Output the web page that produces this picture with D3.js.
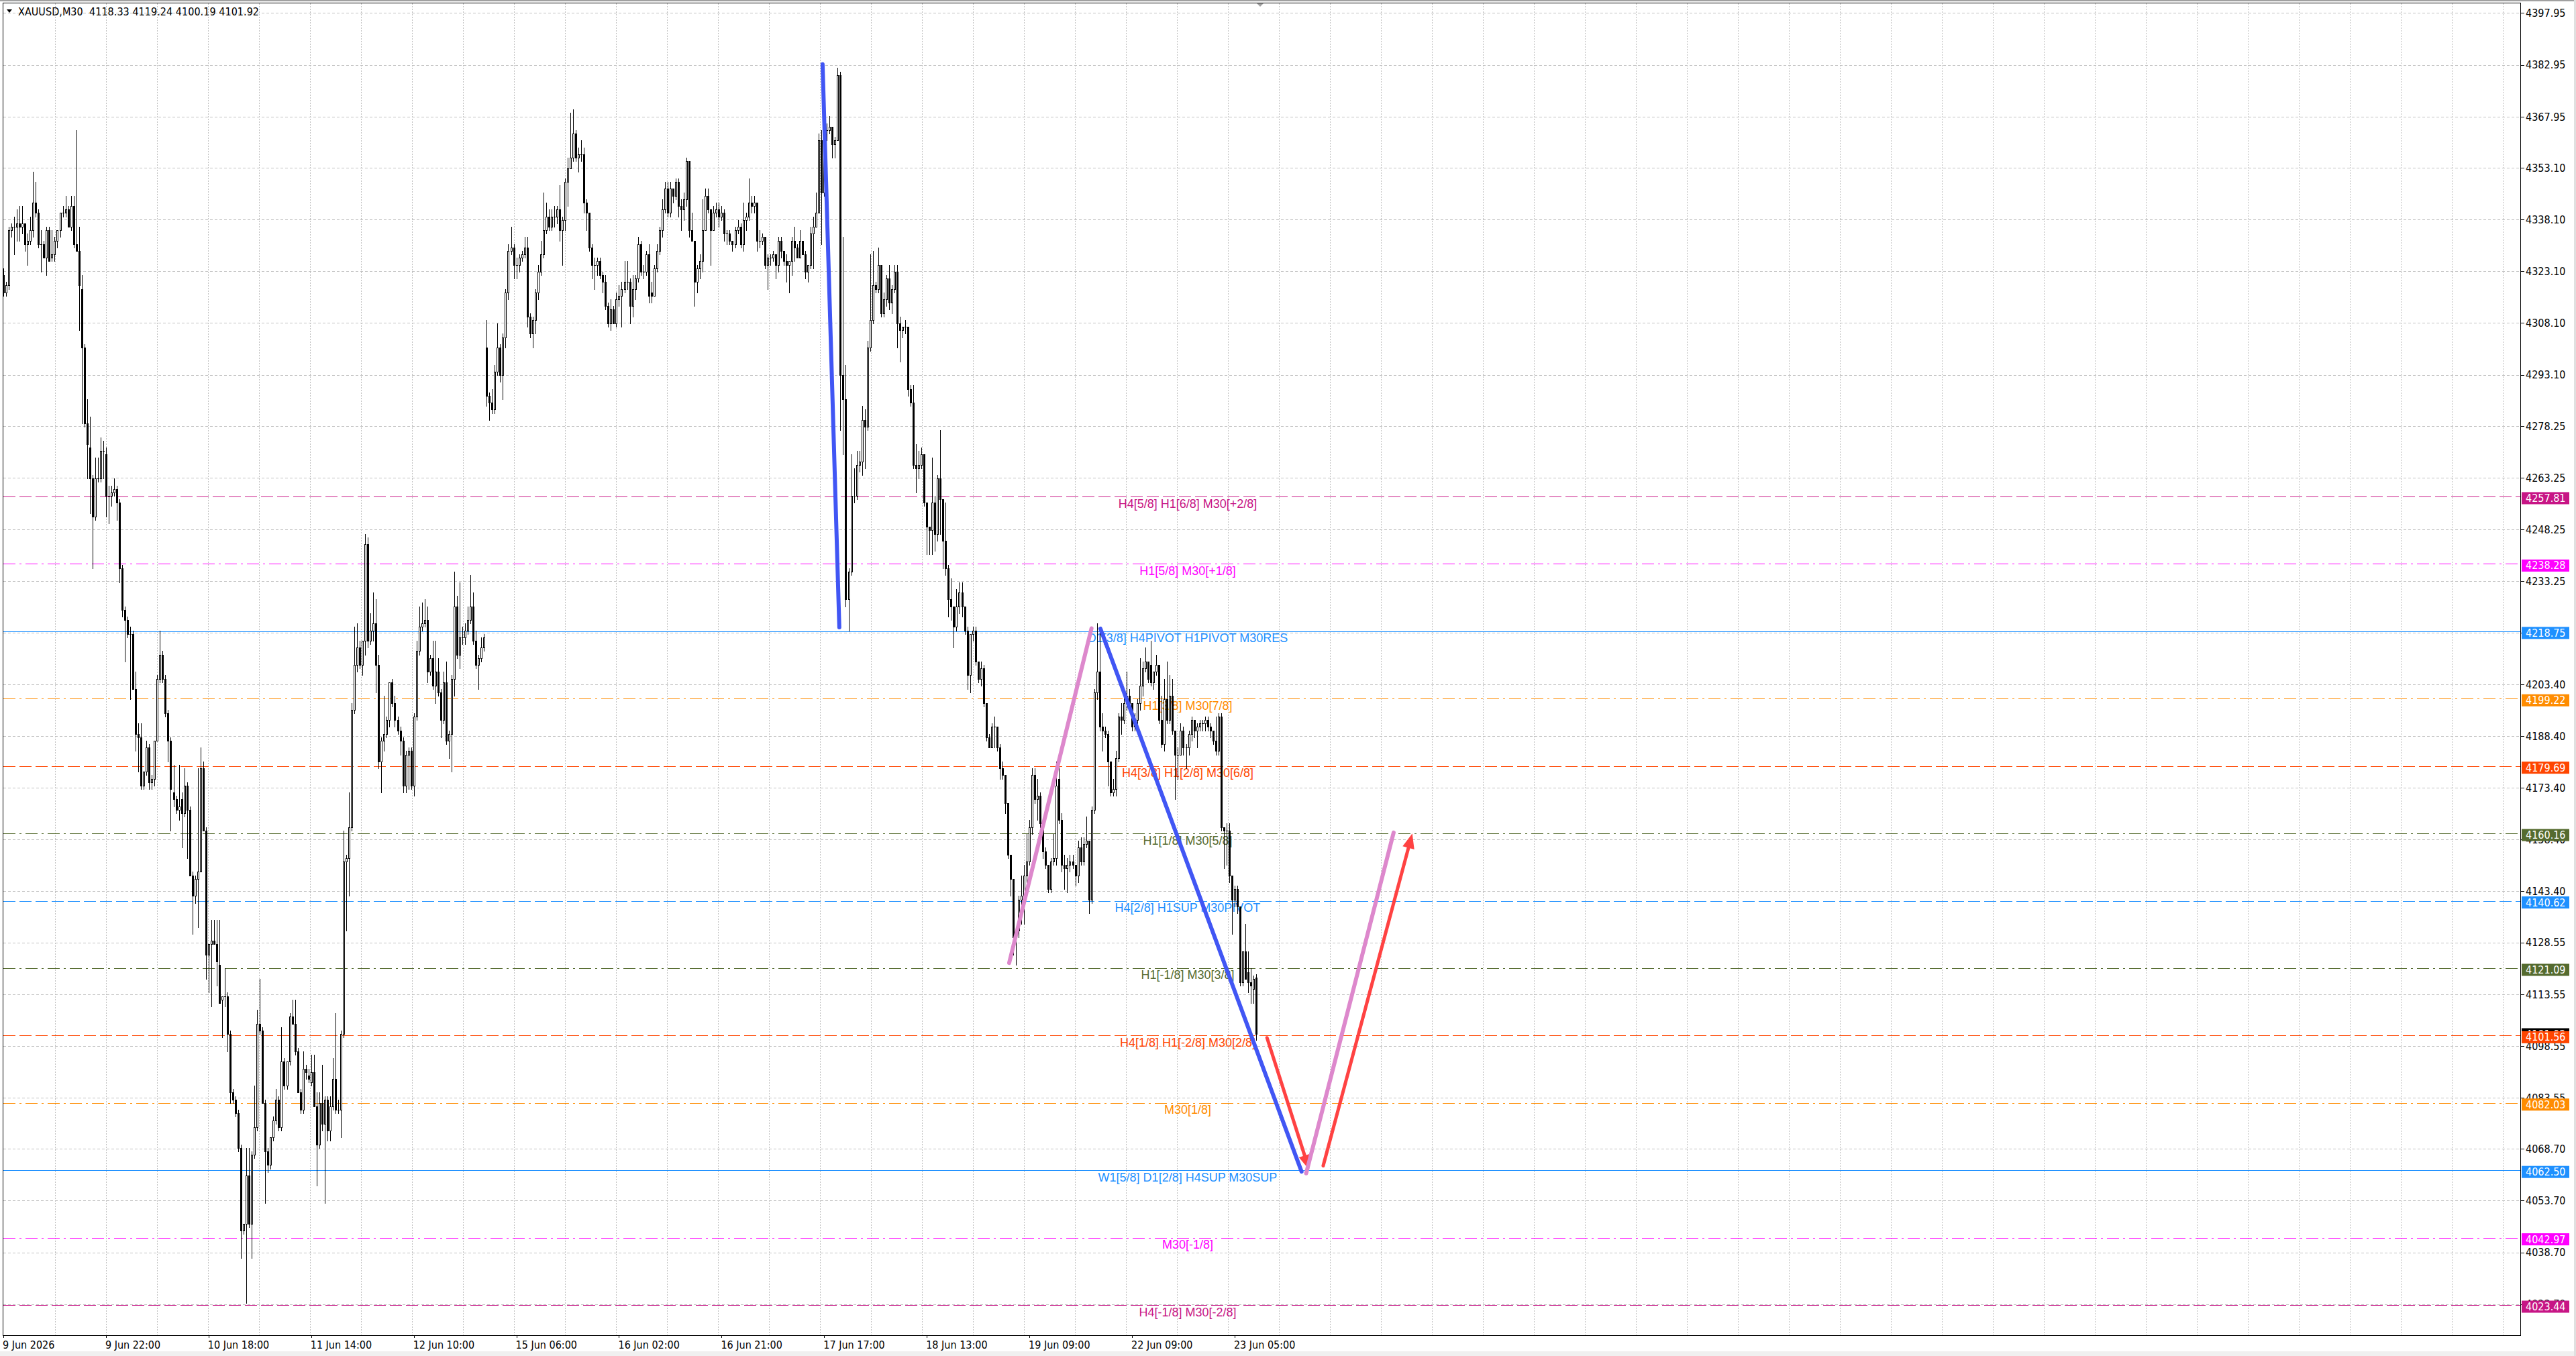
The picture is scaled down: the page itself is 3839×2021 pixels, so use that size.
<!DOCTYPE html>
<html>
<head>
<meta charset="utf-8">
<script src="https://cdn.jsdelivr.net/npm/d3@7"></script>
<style>
html, body { margin: 0; padding: 0; background: #fff; }
svg { display: block; }
</style>
</head>
<body>
<div id="chart"></div>
<script>
// XAUUSD M30 candles (bar 0 = 9 Jun 2026 early, last bar = 23 Jun)
const opens = [
4322,4317,4319,4335,4336,4336,4337,4336,4337,4331, 4332,4335,4343,4340,4331,4331,4327,4335,4327,4328,
4332,4335,4340,4340,4341,4336,4342,4331,4329,4318, 4301,4279,4272,4263,4252,4263,4263,4271,4270,4258,
4258,4259,4260,4256,4237,4225,4222,4218,4218,4202, 4189,4188,4174,4178,4185,4175,4176,4187,4205,4212,
4205,4195,4187,4172,4170,4167,4170,4166,4174,4167, 4148,4142,4147,4149,4179,4161,4125,4128,4129,4128,
4122,4112,4113,4113,4102,4085,4083,4079,4069,4045, 4047,4061,4047,4067,4075,4105,4103,4082,4068,4064,
4072,4077,4083,4075,4094,4087,4094,4107,4105,4097, 4085,4080,4092,4090,4088,4091,4081,4070,4082,4076,
4083,4074,4081,4089,4080,4080,4102,4152,4153,4162, 4196,4209,4214,4209,4216,4244,4216,4219,4221,4209,
4181,4187,4189,4193,4204,4198,4193,4190,4187,4174, 4183,4184,4174,4194,4213,4220,4221,4222,4207,4211,
4203,4207,4201,4193,4204,4187,4189,4205,4226,4212, 4217,4217,4219,4222,4226,4216,4209,4211,4214,4301,
4287,4285,4283,4294,4301,4293,4304,4317,4329,4330, 4325,4325,4327,4328,4330,4310,4305,4309,4317,4323,
4328,4335,4339,4336,4339,4339,4341,4335,4338,4349, 4353,4356,4363,4356,4357,4357,4343,4340,4330,4325,
4325,4326,4322,4320,4313,4308,4312,4308,4315,4316, 4318,4320,4320,4313,4318,4321,4331,4323,4323,4328,
4317,4316,4324,4329,4335,4341,4347,4340,4347,4345, 4349,4342,4341,4344,4355,4335,4332,4320,4324,4326,
4335,4345,4341,4335,4340,4341,4339,4340,4334,4334, 4332,4331,4335,4336,4331,4338,4339,4343,4342,4343,
4332,4332,4333,4325,4327,4327,4328,4325,4332,4329, 4326,4325,4326,4332,4330,4327,4332,4328,4323,4325,
4334,4336,4340,4361,4346,4364,4364,4365,4360,4361, 4380,4293,4286,4228,4236,4258,4258,4267,4268,4280,
4278,4301,4309,4319,4318,4325,4311,4315,4321,4314, 4318,4323,4308,4306,4307,4307,4289,4285,4267,4266,
4267,4270,4256,4249,4248,4256,4247,4263,4257,4245, 4237,4228,4226,4220,4226,4230,4226,4219,4206,4218,
4219,4210,4205,4208,4198,4188,4185,4191,4191,4185, 4179,4177,4169,4154,4147,4130,4132,4141,4142,4148,
4152,4162,4177,4170,4171,4163,4155,4151,4144,4152, 4153,4176,4164,4151,4150,4151,4152,4151,4148,4156,
4152,4157,4158,4141,4167,4201,4207,4191,4190,4189, 4181,4172,4173,4182,4194,4193,4198,4200,4198,4191,
4193,4198,4203,4208,4210,4209,4204,4207,4209,4193, 4186,4199,4193,4200,4190,4183,4183,4190,4185,4185,
4189,4193,4190,4191,4192,4192,4193,4191,4190,4187, 4184,4194,4162,4161,4161,4148,4141,4144,4139,4117,
4126,4120,4117,4115,4118.33
];
const highs = [
4324,4320,4336,4337,4339,4341,4342,4342,4337,4334, 4339,4352,4349,4341,4335,4332,4336,4336,4335,4333,
4335,4340,4342,4345,4342,4345,4345,4364,4336,4322, 4302,4286,4281,4264,4269,4269,4275,4274,4272,4261,
4261,4263,4261,4257,4238,4226,4223,4220,4219,4207, 4192,4192,4178,4187,4186,4177,4187,4206,4219,4213,
4206,4196,4188,4180,4171,4180,4172,4179,4175,4168, 4149,4148,4179,4185,4181,4162,4128,4135,4135,4135,
4135,4113,4121,4114,4103,4086,4084,4080,4070,4047, 4069,4069,4068,4087,4109,4118,4104,4083,4069,4072,
4078,4086,4084,4104,4095,4094,4108,4112,4112,4098, 4086,4097,4093,4092,4096,4096,4085,4085,4093,4084,
4084,4084,4095,4108,4083,4103,4161,4154,4172,4198, 4220,4221,4216,4216,4247,4246,4224,4230,4228,4212,
4188,4200,4194,4204,4205,4200,4194,4191,4188,4184, 4185,4185,4195,4216,4226,4227,4228,4226,4212,4216,
4216,4211,4202,4207,4210,4190,4206,4236,4229,4233, 4220,4221,4226,4235,4230,4219,4212,4217,4218,4309,
4288,4289,4296,4308,4302,4305,4318,4331,4336,4331, 4327,4328,4329,4333,4333,4311,4310,4318,4325,4332,
4346,4343,4341,4341,4342,4342,4348,4339,4350,4356, 4369,4370,4364,4359,4361,4359,4344,4340,4331,4327,
4327,4327,4323,4322,4314,4315,4313,4317,4319,4320, 4326,4326,4321,4322,4322,4333,4332,4325,4329,4331,
4320,4325,4331,4336,4344,4349,4349,4349,4347,4350, 4350,4344,4346,4356,4355,4340,4332,4325,4328,4344,
4347,4347,4341,4342,4343,4343,4342,4341,4335,4335, 4332,4336,4338,4337,4343,4340,4350,4345,4345,4343,
4335,4334,4333,4328,4328,4329,4328,4333,4333,4329, 4328,4326,4333,4336,4331,4335,4332,4329,4325,4336,
4339,4346,4363,4364,4366,4366,4368,4365,4362,4382, 4381,4333,4296,4237,4270,4266,4271,4271,4284,4283,
4303,4328,4329,4320,4330,4325,4317,4322,4325,4319, 4325,4325,4310,4307,4309,4307,4290,4290,4273,4271,
4272,4270,4256,4249,4269,4258,4264,4277,4257,4256, 4238,4234,4226,4231,4233,4233,4226,4220,4218,4220,
4220,4210,4210,4209,4198,4189,4192,4194,4191,4186, 4181,4177,4169,4154,4147,4133,4142,4148,4151,4160,
4164,4179,4179,4176,4172,4163,4156,4151,4153,4160, 4181,4181,4166,4154,4153,4154,4154,4151,4158,4159,
4159,4165,4158,4168,4202,4221,4220,4195,4191,4190, 4181,4176,4184,4195,4198,4200,4207,4202,4198,4195,
4199,4211,4210,4214,4210,4216,4207,4212,4209,4200, 4205,4210,4206,4205,4190,4185,4192,4191,4186,4190,
4194,4193,4192,4193,4193,4194,4194,4192,4190,4194, 4195,4195,4162,4163,4163,4148,4145,4145,4139,4126,
4134,4126,4121,4119,4119.24
];
const lows = [
4316,4316,4318,4333,4328,4332,4332,4334,4329,4325, 4331,4333,4339,4330,4323,4327,4322,4326,4326,4326,
4330,4333,4339,4339,4336,4335,4330,4329,4306,4279, 4278,4263,4253,4237,4251,4262,4262,4263,4252,4250,
4255,4258,4251,4233,4223,4210,4217,4199,4202,4184, 4178,4173,4173,4177,4173,4173,4174,4187,4204,4204,
4194,4181,4161,4168,4166,4164,4156,4165,4153,4148, 4131,4140,4133,4149,4161,4118,4114,4110,4128,4116,
4111,4101,4110,4097,4082,4082,4078,4068,4037,4044, 4024,4046,4037,4066,4074,4102,4082,4053,4062,4063,
4071,4076,4074,4074,4086,4086,4093,4105,4096,4085, 4079,4079,4089,4088,4087,4081,4058,4069,4074,4053,
4071,4071,4080,4079,4079,4072,4101,4132,4142,4161, 4195,4207,4208,4206,4212,4214,4215,4216,4201,4179,
4172,4184,4188,4191,4197,4191,4189,4183,4172,4172, 4173,4173,4171,4193,4212,4219,4220,4204,4206,4202,
4198,4200,4188,4192,4186,4182,4178,4200,4211,4208, 4215,4215,4218,4221,4215,4208,4202,4210,4213,4284,
4280,4282,4282,4293,4291,4286,4301,4315,4328,4321, 4321,4323,4326,4327,4307,4304,4301,4305,4315,4322,
4327,4334,4335,4335,4336,4337,4332,4325,4335,4342, 4353,4355,4355,4352,4355,4340,4335,4329,4321,4318,
4322,4321,4317,4312,4307,4306,4308,4307,4313,4307, 4317,4318,4308,4310,4315,4320,4322,4321,4322,4314,
4314,4316,4323,4328,4333,4340,4339,4339,4343,4344, 4339,4335,4338,4342,4333,4332,4313,4317,4321,4323,
4335,4340,4325,4335,4339,4336,4338,4332,4331,4331, 4329,4330,4334,4330,4329,4335,4338,4340,4340,4329,
4330,4331,4324,4318,4325,4326,4321,4323,4327,4325, 4320,4317,4322,4326,4327,4327,4328,4321,4320,4324,
4324,4336,4340,4331,4345,4361,4363,4356,4356,4361, 4277,4270,4226,4219,4235,4256,4257,4265,4264,4266,
4277,4300,4308,4317,4317,4310,4310,4313,4312,4311, 4317,4301,4297,4304,4305,4287,4284,4266,4259,4263,
4266,4255,4241,4241,4241,4242,4245,4247,4237,4235, 4223,4222,4214,4219,4224,4223,4218,4202,4201,4216,
4209,4204,4203,4197,4187,4185,4185,4185,4184,4176, 4176,4166,4153,4142,4125,4122,4130,4134,4134,4146,
4151,4160,4169,4164,4162,4153,4150,4143,4143,4151, 4151,4163,4149,4144,4143,4149,4150,4145,4146,4151,
4151,4156,4137,4140,4166,4199,4190,4184,4188,4174, 4171,4171,4171,4181,4189,4192,4196,4196,4190,4190,
4192,4196,4200,4207,4204,4203,4202,4206,4192,4185, 4184,4192,4192,4189,4170,4176,4183,4183,4179,4183,
4187,4188,4185,4190,4190,4190,4190,4188,4186,4183, 4183,4161,4150,4151,4146,4131,4139,4137,4116,4116,
4118,4114,4111,4111,4100.19
];
const closes = [
4317,4319,4335,4336,4336,4337,4336,4337,4331,4332, 4335,4343,4340,4331,4331,4327,4335,4326,4328,4332,
4335,4340,4340,4341,4336,4342,4331,4329,4319,4301, 4279,4273,4263,4252,4263,4263,4271,4271,4258,4258,
4259,4260,4256,4237,4225,4222,4218,4218,4202,4189, 4188,4174,4178,4185,4175,4176,4187,4205,4212,4205,
4195,4187,4173,4170,4167,4168,4166,4174,4167,4148, 4142,4147,4149,4179,4161,4125,4128,4129,4128,4123,
4111,4113,4113,4102,4085,4083,4079,4069,4045,4047, 4061,4047,4067,4075,4105,4103,4082,4068,4064,4072,
4077,4083,4075,4094,4087,4094,4107,4105,4097,4085, 4080,4092,4091,4089,4091,4081,4070,4082,4076,4083,
4074,4081,4089,4080,4080,4102,4152,4153,4162,4196, 4209,4214,4209,4216,4244,4216,4219,4221,4209,4181,
4187,4189,4193,4204,4198,4193,4190,4187,4174,4183, 4184,4174,4194,4213,4220,4221,4222,4207,4211,4203,
4207,4201,4193,4204,4187,4189,4205,4226,4212,4217, 4217,4219,4222,4226,4216,4209,4211,4214,4217,4287,
4285,4283,4294,4301,4293,4304,4317,4329,4330,4325, 4325,4327,4328,4330,4310,4305,4309,4317,4323,4328,
4335,4339,4336,4339,4339,4341,4335,4338,4349,4353, 4356,4363,4356,4357,4357,4343,4340,4330,4325,4325,
4326,4322,4320,4313,4308,4312,4308,4315,4316,4318, 4320,4320,4313,4318,4321,4331,4323,4323,4328,4316,
4316,4324,4329,4335,4341,4347,4340,4347,4345,4349, 4342,4341,4344,4355,4335,4332,4320,4324,4326,4335,
4345,4341,4335,4340,4341,4339,4340,4334,4334,4332, 4331,4335,4336,4331,4338,4339,4343,4342,4343,4332,
4332,4333,4325,4327,4327,4328,4325,4332,4329,4326, 4325,4326,4332,4330,4327,4332,4328,4323,4325,4334,
4336,4340,4361,4346,4364,4364,4365,4360,4361,4380, 4293,4286,4228,4236,4258,4258,4267,4268,4280,4278,
4301,4309,4319,4318,4325,4311,4315,4321,4314,4318, 4323,4308,4306,4307,4307,4289,4285,4267,4266,4267,
4270,4256,4249,4248,4256,4247,4263,4257,4245,4237, 4228,4226,4220,4226,4230,4226,4219,4206,4218,4219,
4210,4205,4208,4198,4188,4185,4191,4191,4185,4179, 4177,4169,4154,4147,4130,4132,4141,4142,4148,4152,
4162,4177,4170,4171,4163,4155,4151,4144,4152,4153, 4174,4164,4151,4150,4151,4152,4151,4148,4156,4152,
4157,4158,4141,4167,4201,4207,4191,4190,4189,4181, 4172,4173,4182,4194,4193,4198,4200,4198,4191,4193,
4198,4203,4208,4210,4205,4204,4207,4209,4193,4186, 4199,4193,4200,4190,4183,4183,4190,4185,4185,4189,
4193,4190,4191,4192,4192,4193,4191,4190,4187,4184, 4194,4162,4161,4161,4148,4141,4144,4139,4117,4126,
4118,4117,4116,4118,4101.92
];

// time axis: a label every 38 bars
const timeLabels = ["9 Jun 2026", "9 Jun 22:00", "10 Jun 18:00", "11 Jun 14:00", "12 Jun 10:00", "15 Jun 06:00",
  "16 Jun 02:00", "16 Jun 21:00", "17 Jun 17:00", "18 Jun 13:00", "19 Jun 09:00", "22 Jun 09:00", "23 Jun 05:00"];
const timeLabelBars = [0, 38, 76, 114, 152, 190, 228, 266, 304, 342, 380, 418, 456];

// price axis labels
const priceTicks = [4397.95, 4382.95, 4367.95, 4353.10, 4338.10, 4323.10, 4308.10, 4293.10, 4278.25, 4263.25,
  4248.25, 4233.25, 4218.25, 4203.40, 4188.40, 4173.40, 4158.40, 4143.40, 4128.55, 4113.55, 4098.55, 4083.55,
  4068.70, 4053.70, 4038.70, 4023.70];

// murrey math levels
const levelPrices = [4257.81, 4238.28, 4218.75, 4199.22, 4179.69, 4160.16, 4140.62, 4121.09, 4101.56, 4082.03, 4062.50, 4042.97, 4023.44];
const levelNames = ["H4[5/8] H1[6/8] M30[+2/8]", "H1[5/8] M30[+1/8]", "D1[3/8] H4PIVOT H1PIVOT M30RES",
  "H1[3/8] M30[7/8]", "H4[3/8] H1[2/8] M30[6/8]", "H1[1/8] M30[5/8]", "H4[2/8] H1SUP M30PIVOT",
  "H1[-1/8] M30[3/8]", "H4[1/8] H1[-2/8] M30[2/8]", "M30[1/8]", "W1[5/8] D1[2/8] H4SUP M30SUP",
  "M30[-1/8]", "H4[-1/8] M30[-2/8]"];
const levelColors = ["#C71585", "#FF00FF", "#1E90FF", "#FF8C00", "#FF4500", "#556B2F", "#1E90FF",
  "#556B2F", "#FF4500", "#FF8C00", "#1E90FF", "#FF00FF", "#C71585"];
const levelStyles = ["dash", "dashdot", "solid", "dashdot", "dash", "dashdot", "dash",
  "dashdot", "dash", "dashdot", "solid", "dashdot", "dash"];

// hand drawn lines: [bar, price] end points
const drawnLines = [
  {kind: "blue", from: [303.4, 4383.1], to: [309.6, 4219.9]},
  {kind: "blue", from: [406.3, 4219.5], to: [480.8, 4062.1]},
  {kind: "red",  from: [468.0, 4100.9], to: [483.6, 4062.7], arrow: true},
  {kind: "red",  from: [488.8, 4063.8], to: [521.8, 4160.1], arrow: true},
  {kind: "pink", from: [372.5, 4122.6], to: [403.0, 4219.6]},
  {kind: "pink", from: [482.5, 4061.6], to: [514.9, 4160.4]}
];

const width = 3839, height = 2021;
const plot = {left: 4.5, top: 4.5, right: 3756.5, bottom: 1990.5};
const axisFont = "'DejaVu Sans Condensed', 'DejaVu Sans', sans-serif";
const dashes = {dash: "18,6", dashdot: "18,6,3,6", solid: null};
const lineColors = {blue: "#4156F4", red: "#FF4242", pink: "#DD88CC"};
const lineWidths = {blue: 6, red: 5, pink: 6};

const xScale = d3.scaleLinear().domain([0, 464]).range([5, 5 + 464 * 4.024]);
const yScale = d3.scaleLinear().domain([4023.44, 4257.81]).range([1945, 740]);
const crisp = v => Math.round(v) + 0.5;

const svg = d3.select('#chart').append('svg')
    .attr('width', width)
    .attr('height', height);

svg.append('rect').attr('width', width).attr('height', height).attr('fill', '#fff');
svg.append('rect').attr('x', 0).attr('y', 0).attr('width', width).attr('height', 2).attr('fill', '#A0A0A0');
svg.append('rect').attr('x', 0).attr('y', 2014).attr('width', width).attr('height', 7).attr('fill', '#F0F0F0');
svg.append('rect').attr('x', 3836).attr('y', 0).attr('width', 3).attr('height', height).attr('fill', '#E0E0E0');

// grid
const grid = svg.append('g').attr('shape-rendering', 'crispEdges');
grid.selectAll('.hgrid')
    .data(priceTicks)
    .join('line')
    .attr('x1', plot.left).attr('x2', plot.right)
    .attr('y1', d => crisp(yScale(d))).attr('y2', d => crisp(yScale(d)))
    .attr('stroke', '#C0C0C0')
    .attr('stroke-dasharray', '4,3');

grid.selectAll('.vgrid')
    .data(d3.range(81.7, plot.right, 76))
    .join('line')
    .attr('x1', d => crisp(d)).attr('x2', d => crisp(d))
    .attr('y1', plot.top).attr('y2', plot.bottom)
    .attr('stroke', '#C0C0C0')
    .attr('stroke-dasharray', '2,2');

// level lines
svg.append('g').attr('shape-rendering', 'crispEdges')
    .selectAll('line')
    .data(levelPrices)
    .join('line')
    .attr('x1', plot.left).attr('x2', plot.right)
    .attr('y1', d => crisp(yScale(d))).attr('y2', d => crisp(yScale(d)))
    .attr('stroke', (d, i) => levelColors[i])
    .attr('stroke-dasharray', (d, i) => dashes[levelStyles[i]]);

// level names, under the candles
svg.append('g')
    .selectAll('text')
    .data(levelPrices)
    .join('text')
    .attr('x', 1770)
    .attr('y', d => yScale(d) + 16.5)
    .attr('text-anchor', 'middle')
    .style('font-family', "'Liberation Sans', Arial, sans-serif")
    .style('font-size', '18px')
    .attr('fill', (d, i) => levelColors[i])
    .text((d, i) => levelNames[i]);

// candles
const candles = svg.append('g').attr('shape-rendering', 'crispEdges');
closes.forEach((c, i) => {
    const o = opens[i];
    const cx = Math.round(xScale(i));
    const yo = Math.round(yScale(o)), yc = Math.round(yScale(c));
    const yh = Math.round(yScale(highs[i])), yl = Math.round(yScale(lows[i]));
    candles.append('line')
        .attr('x1', cx + 0.5).attr('x2', cx + 0.5)
        .attr('y1', yh).attr('y2', yl + 1)
        .attr('stroke', '#000');
    if (yo === yc) {
        candles.append('line')
            .attr('x1', cx - 1).attr('x2', cx + 2)
            .attr('y1', yo + 0.5).attr('y2', yo + 0.5)
            .attr('stroke', '#000');
    } else if (c > o) {
        candles.append('rect')
            .attr('x', cx - 0.5).attr('y', yc + 0.5)
            .attr('width', 2).attr('height', yo - yc)
            .attr('fill', '#fff').attr('stroke', '#000');
    } else {
        candles.append('rect')
            .attr('x', cx - 1).attr('y', yo)
            .attr('width', 3).attr('height', yc - yo + 1)
            .attr('fill', '#000');
    }
});

// drawn lines and arrows
const drawn = svg.append('g');
drawnLines.forEach(l => {
    const x1 = xScale(l.from[0]), y1 = yScale(l.from[1]);
    const x2 = xScale(l.to[0]), y2 = yScale(l.to[1]);
    const col = lineColors[l.kind];
    let ex = x2, ey = y2;
    if (l.arrow) {
        const len = Math.hypot(x2 - x1, y2 - y1);
        const ux = (x2 - x1) / len, uy = (y2 - y1) / len;
        const head = 22, half = 9;
        ex = x2 - ux * head * 0.8;
        ey = y2 - uy * head * 0.8;
        const bx = x2 - ux * head, by = y2 - uy * head;
        drawn.append('path')
            .attr('d', `M${x2},${y2}L${bx - uy * half},${by + ux * half}L${bx + uy * half},${by - ux * half}Z`)
            .attr('fill', col);
    }
    drawn.append('line')
        .attr('x1', x1).attr('y1', y1)
        .attr('x2', ex).attr('y2', ey)
        .attr('stroke', col)
        .attr('stroke-width', lineWidths[l.kind])
        .attr('stroke-linecap', 'round');
});

// frame
svg.append('rect')
    .attr('x', plot.left).attr('y', plot.top)
    .attr('width', plot.right - plot.left).attr('height', plot.bottom - plot.top)
    .attr('fill', 'none').attr('stroke', '#000')
    .attr('shape-rendering', 'crispEdges');

// price axis
const axisR = svg.append('g');
axisR.selectAll('line')
    .data(priceTicks)
    .join('line')
    .attr('x1', plot.right).attr('x2', plot.right + 5)
    .attr('y1', d => crisp(yScale(d))).attr('y2', d => crisp(yScale(d)))
    .attr('stroke', '#000')
    .attr('shape-rendering', 'crispEdges');
axisR.selectAll('text')
    .data(priceTicks)
    .join('text')
    .attr('x', 3764)
    .attr('y', d => yScale(d) + 5.8)
    .style('font-family', axisFont)
    .style('font-size', '16px')
    .attr('fill', '#000')
    .text(d => d.toFixed(2));

// current bid box, then level boxes
const last = closes.length - 1;
const boxes = [{p: closes[last], col: '#000', dy: -9}].concat(levelPrices.map((p, i) => ({p, col: levelColors[i], dy: -6.5})));
const boxG = svg.append('g');
boxes.forEach(b => {
    const y = yScale(b.p);
    boxG.append('rect')
        .attr('x', 3758).attr('y', y + b.dy)
        .attr('width', 71).attr('height', 18)
        .attr('fill', b.col);
    boxG.append('text')
        .attr('x', 3764).attr('y', y + b.dy + 14.5)
        .style('font-family', axisFont)
        .style('font-size', '16px')
        .attr('fill', '#fff')
        .text(b.p.toFixed(2));
});

// time axis
const axisB = svg.append('g');
axisB.selectAll('line')
    .data(timeLabelBars)
    .join('line')
    .attr('x1', d => crisp(xScale(d))).attr('x2', d => crisp(xScale(d)))
    .attr('y1', plot.bottom).attr('y2', plot.bottom + 3)
    .attr('stroke', '#000')
    .attr('shape-rendering', 'crispEdges');
axisB.selectAll('text')
    .data(timeLabelBars)
    .join('text')
    .attr('x', d => xScale(d) - 1)
    .attr('y', 2010)
    .style('font-family', axisFont)
    .style('font-size', '16px')
    .attr('fill', '#000')
    .text((d, i) => timeLabels[i]);

// header
svg.append('path').attr('d', 'M10,14L18,14L14,19Z').attr('fill', '#000');
svg.append('text')
    .attr('x', 27).attr('y', 23)
    .style('font-family', axisFont)
    .style('font-size', '16px')
    .style('white-space', 'pre')
    .attr('fill', '#000')
    .attr('textLength', 359)
    .attr('lengthAdjust', 'spacing')
    .text(`XAUUSD,M30  ${opens[last].toFixed(2)} ${highs[last].toFixed(2)} ${lows[last].toFixed(2)} ${closes[last].toFixed(2)}`);

// chart shift marker
svg.append('path').attr('d', 'M1873,5L1883,5L1878,10Z').attr('fill', '#A0A0A0');
</script>
</body>
</html>
